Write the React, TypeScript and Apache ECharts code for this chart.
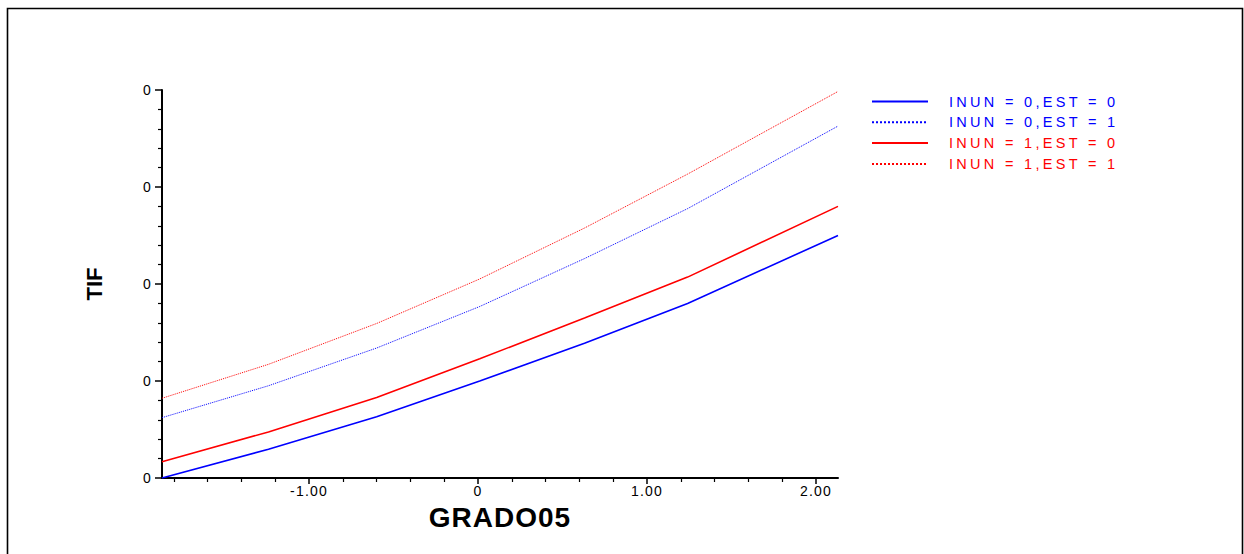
import React, { useEffect, useRef } from "react";
import * as echarts from "echarts";

// ---- data ----
const xValues = [-1.87, -1.24, -0.6, 0.01, 0.63, 1.24, 2.13];
const inun0Est0 = [0.0, 0.00297, 0.00632, 0.00999, 0.01388, 0.018, 0.025];
const inun0Est1 = [0.00622, 0.00951, 0.0134, 0.01768, 0.02262, 0.02777, 0.03628];
const inun1Est0 = [0.00168, 0.00475, 0.00831, 0.01229, 0.01649, 0.02071, 0.028];
const inun1Est1 = [0.00822, 0.01172, 0.01593, 0.02052, 0.02577, 0.03133, 0.03985];

const seriesNames = [
  "INUN = 0,EST = 0",
  "INUN = 0,EST = 1",
  "INUN = 1,EST = 0",
  "INUN = 1,EST = 1",
];
const seriesValues = [inun0Est0, inun0Est1, inun1Est0, inun1Est1];
const seriesColors = ["#0000ff", "#0000ff", "#ff0000", "#ff0000"];
const seriesDashed = [false, true, false, true];

const xMajorTicks = [-1, 0, 1, 2];
const xMinorTicks = [
  -1.8, -1.6, -1.4, -1.2, -0.8, -0.6, -0.4, -0.2, 0.2, 0.4, 0.6, 0.8, 1.2,
  1.4, 1.6, 1.8,
];
const xMin = -1.87;
const xMax = 2.13;
const yMin = 0;
const yMax = 0.04;
const yStep = 0.01;

const FONT = "Liberation Sans";

export default function App() {
  const ref = useRef<HTMLDivElement>(null);

  useEffect(() => {
    if (!ref.current) return;
    const chart = echarts.init(ref.current, undefined, { renderer: "svg" });

    const series = seriesNames.map((name, i) => ({
      name,
      type: "line",
      xAxisIndex: 0,
      yAxisIndex: 0,
      data: xValues.map((x, j) => [x, seriesValues[i][j]]),
      symbol: "none",
      showSymbol: false,
      smooth: false,
      lineStyle: {
        color: seriesColors[i],
        width: seriesDashed[i] ? 1 : 1.6,
        type: seriesDashed[i] ? "dotted" : "solid",
      },
      itemStyle: { color: seriesColors[i] },
    }));

    chart.setOption({
      animation: false,
      backgroundColor: "#ffffff",
      textStyle: { fontFamily: FONT },
      graphic: [
        {
          type: "rect",
          shape: { x: 7.5, y: 8.5, width: 1235, height: 620 },
          style: { fill: "none", stroke: "#000", lineWidth: 1.6 },
          silent: true,
        },
      ],
      grid: { left: 162, right: 406, top: 90, bottom: 76 },
      legend: {
        orient: "vertical",
        left: 871,
        top: 94,
        padding: 0,
        itemWidth: 56,
        itemHeight: 14,
        itemGap: 5.8,
        selectedMode: false,
        itemStyle: { opacity: 0 },
        data: seriesNames.map((n, i) => ({
          name: n,
          textStyle: { color: seriesColors[i] },
        })),
        textStyle: {
          fontFamily: FONT,
          fontSize: 14.5,
          padding: [0, 0, 0, 16],
        },
      },
      xAxis: [
        {
          type: "value",
          min: xMin,
          max: xMax,
          name: "GRADO05",
          nameLocation: "middle",
          nameGap: 25.5,
          nameTextStyle: {
            fontFamily: FONT,
            fontWeight: "bold",
            fontSize: 28,
            color: "#000",
          },
          axisLine: { show: true, onZero: false, lineStyle: { color: "#000", width: 2 } },
          axisTick: {
            show: true,
            customValues: xMajorTicks,
            length: 6,
            lineStyle: { color: "#000", width: 1.5 },
          },
          axisLabel: {
            customValues: xMajorTicks,
            formatter: (v: number) => (v === 0 ? "0" : v.toFixed(2)),
            color: "#000",
            fontSize: 14,
            fontFamily: FONT,
            margin: 6,
          },
          splitLine: { show: false },
        },
        {
          type: "value",
          min: xMin,
          max: xMax,
          position: "bottom",
          axisLine: { show: false, onZero: false },
          axisTick: {
            show: true,
            customValues: xMinorTicks,
            length: 4,
            lineStyle: { color: "#000", width: 1.2 },
          },
          axisLabel: { show: false },
          splitLine: { show: false },
        },
      ],
      yAxis: {
        type: "value",
        min: yMin,
        max: yMax,
        interval: yStep,
        name: "TIF",
        nameLocation: "middle",
        nameGap: 57,
        nameRotate: 90,
        nameTextStyle: {
          fontFamily: FONT,
          fontWeight: "bold",
          fontSize: 22,
          color: "#000",
        },
        axisLine: { show: true, onZero: false, lineStyle: { color: "#000", width: 2 } },
        axisTick: { show: true, length: 7, lineStyle: { color: "#000", width: 1.5 } },
        minorTick: {
          show: true,
          splitNumber: 5,
          length: 4,
          lineStyle: { color: "#000", width: 1.2 },
        },
        axisLabel: {
          formatter: (v: number) => v.toFixed(0),
          color: "#000",
          fontSize: 14,
          fontFamily: FONT,
          margin: 10,
        },
        splitLine: { show: false },
      },
      series,
    });

    return () => chart.dispose();
  }, []);

  return (
    <>
      <style>{`
#tif-chart text[style*="14.5px"] { letter-spacing: 3.3px; }
#tif-chart text[style*="14px"] { letter-spacing: 1.2px; }
#tif-chart text[style*="28px"] { letter-spacing: 1px; }
`}</style>
      <div
        id="tif-chart"
        ref={ref}
        style={{
          position: "absolute",
          left: 0,
          top: 0,
          width: 1244,
          height: 554,
          background: "#fff",
        }}
      />
    </>
  );
}
